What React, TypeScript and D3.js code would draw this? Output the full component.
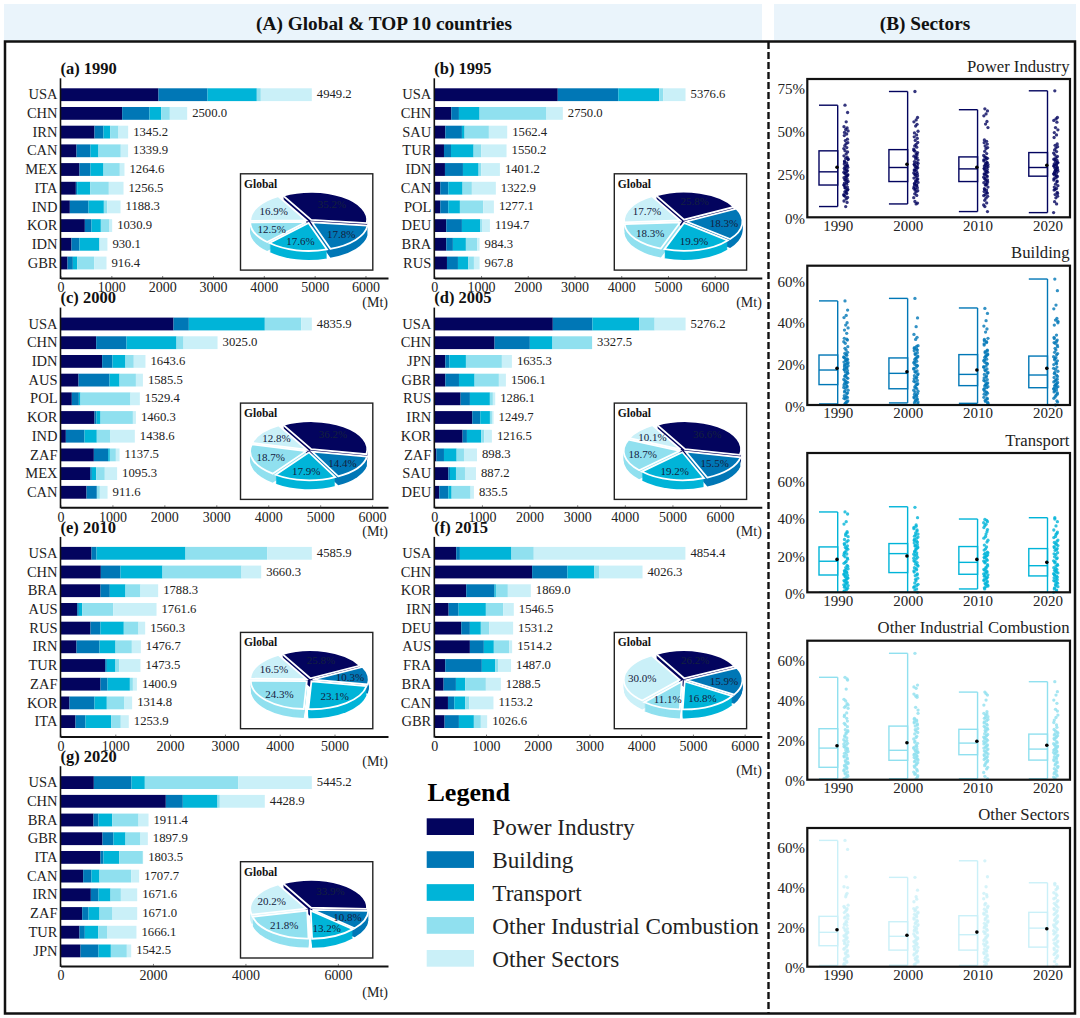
import { useEffect, useRef } from 'react';
import * as d3 from 'd3';

const SERIF = '"Liberation Serif", serif';
const SECTOR_NAMES = ['Power Industry', 'Building', 'Transport', 'Other Industrial Combustion', 'Other Sectors'];
const SECTOR_COLORS = ['#03045e', '#0077b6', '#00b4d8', '#90e0ef', '#caf0f8'];

// (A) top 10 countries per year, Mt by sector
const COUNTRIES_1990 = ['USA', 'CHN', 'IRN', 'CAN', 'MEX', 'ITA', 'IND', 'KOR', 'IDN', 'GBR'];
const TOTALS_1990 = [4949.2, 2500.0, 1345.2, 1339.9, 1264.6, 1256.5, 1188.3, 1030.9, 930.1, 916.4];
const VALUES_1990 = [
  [1928, 964, 970, 79, 1003], [1213, 538, 230, 170, 341], [669, 177, 131, 164, 190], [315, 275, 157, 439, 144],
  [374, 216, 256, 321, 92], [302, 26, 256, 367, 289], [184, 367, 302, 66, 262], [479, 131, 184, 170, 52],
  [216, 157, 393, 0, 157], [138, 105, 85, 334, 243],
];
const GLOBAL_1990 = [35.2, 17.8, 17.6, 12.5, 16.9];

const COUNTRIES_1995 = ['USA', 'CHN', 'SAU', 'TUR', 'IDN', 'CAN', 'POL', 'DEU', 'BRA', 'RUS'];
const TOTALS_1995 = [5376.6, 2750.0, 1562.4, 1550.2, 1401.2, 1322.9, 1277.1, 1194.7, 984.3, 967.8];
const VALUES_1995 = [
  [2642, 1296, 876, 85, 477], [363, 164, 442, 1432, 349], [235, 356, 57, 520, 392], [207, 150, 484, 164, 541],
  [228, 385, 335, 57, 399], [128, 171, 306, 199, 513], [128, 171, 249, 499, 228], [256, 335, 392, 36, 171],
  [256, 142, 278, 242, 50], [271, 235, 221, 121, 121],
];
const GLOBAL_1995 = [25.8, 18.3, 19.9, 18.3, 17.7];

const COUNTRIES_2000 = ['USA', 'CHN', 'IDN', 'AUS', 'POL', 'KOR', 'IND', 'ZAF', 'MEX', 'CAN'];
const TOTALS_2000 = [4835.9, 3025.0, 1643.6, 1585.5, 1529.4, 1460.3, 1438.6, 1137.5, 1095.3, 911.6];
const VALUES_2000 = [
  [2176, 295, 1463, 700, 205], [687, 584, 963, 135, 655], [802, 199, 250, 160, 225], [347, 597, 193, 315, 135],
  [218, 135, 32, 963, 180], [655, 39, 77, 623, 58], [103, 359, 237, 263, 469], [642, 276, 32, 116, 71],
  [571, 32, 83, 167, 237], [501, 199, 0, 58, 148],
];
const GLOBAL_2000 = [36.2, 14.4, 17.9, 18.7, 12.8];

const COUNTRIES_2005 = ['USA', 'CHN', 'JPN', 'GBR', 'RUS', 'IRN', 'KOR', 'ZAF', 'SAU', 'DEU'];
const TOTALS_2005 = [5276.2, 3327.5, 1635.3, 1506.1, 1286.1, 1249.7, 1216.5, 898.3, 887.2, 835.5];
const VALUES_2005 = [
  [2488, 832, 985, 321, 650], [1265, 741, 475, 832, 0], [231, 84, 349, 755, 210], [231, 287, 328, 510, 147],
  [552, 196, 419, 63, 49], [797, 168, 203, 42, 35], [594, 91, 300, 63, 161], [42, 161, 266, 154, 273],
  [294, 35, 126, 189, 231], [105, 189, 70, 398, 70],
];
const GLOBAL_2005 = [36.6, 15.5, 19.2, 18.7, 10.1];

const COUNTRIES_2010 = ['USA', 'CHN', 'BRA', 'AUS', 'RUS', 'IRN', 'TUR', 'ZAF', 'KOR', 'ITA'];
const TOTALS_2010 = [4585.9, 3660.3, 1788.3, 1761.6, 1560.3, 1476.7, 1473.5, 1400.9, 1314.8, 1253.9];
const VALUES_2010 = [
  [566, 91, 1624, 1490, 815], [736, 359, 766, 1442, 359], [730, 170, 286, 274, 322], [304, 30, 61, 566, 791],
  [547, 182, 426, 268, 122], [292, 420, 292, 298, 164], [815, 30, 158, 67, 389], [730, 128, 408, 55, 73],
  [164, 456, 225, 322, 140], [274, 182, 468, 176, 146],
];
const GLOBAL_2010 = [25.8, 10.3, 23.1, 24.3, 16.5];

const COUNTRIES_2015 = ['USA', 'CHN', 'KOR', 'IRN', 'DEU', 'AUS', 'FRA', 'BRA', 'CAN', 'GBR'];
const TOTALS_2015 = [4854.4, 4026.3, 1869.0, 1546.5, 1531.2, 1514.2, 1487.0, 1288.5, 1153.2, 1026.6];
const VALUES_2015 = [
  [424, 71, 997, 431, 2932], [1891, 682, 521, 90, 842], [617, 547, 26, 232, 444], [277, 193, 527, 334, 206],
  [521, 167, 212, 161, 463], [688, 270, 193, 296, 58], [212, 707, 257, 64, 244], [180, 238, 180, 399, 289],
  [264, 122, 212, 77, 469], [199, 277, 289, 135, 122],
];
const GLOBAL_2015 = [26.2, 15.9, 16.8, 11.1, 30.0];

const COUNTRIES_2020 = ['USA', 'CHN', 'BRA', 'GBR', 'ITA', 'CAN', 'IRN', 'ZAF', 'TUR', 'JPN'];
const TOTALS_2020 = [5445.2, 4428.9, 1911.4, 1897.9, 1803.5, 1707.7, 1671.6, 1671.0, 1666.1, 1542.5];
const VALUES_2020 = [
  [721, 815, 288, 2019, 1593], [2278, 368, 750, 50, 973], [714, 108, 296, 570, 216], [908, 238, 260, 324, 159],
  [865, 65, 339, 512, 7], [490, 180, 173, 685, 173], [656, 166, 260, 224, 353], [469, 137, 238, 281, 534],
  [411, 115, 288, 202, 627], [433, 389, 267, 346, 94],
];
const GLOBAL_2020 = [33.9, 10.8, 13.2, 21.8, 20.2];

// (B) box stats per decade: min, q1, median, q3, max, mean (%)
const YEARS = [1990, 2000, 2010, 2020];
const POWER_STATS = [[6.2, 18.6, 26.2, 38.3, 64.6, 28.8], [7.7, 20.6, 28.7, 39, 72.5, 30.6], [3.3, 20.6, 27.9, 34.8, 62, 28.8], [2.7, 23.7, 28.7, 37.3, 72.9, 30]];
const BUILDING_STATS = [[0.5, 9.8, 16.8, 24, 50, 17.6], [1, 7.8, 15.2, 22.6, 51.2, 16], [0.8, 9.3, 14.7, 24.2, 46.6, 16.8], [0, 8.3, 14.4, 23.5, 60.5, 17.6]];
const TRANSPORT_STATS = [[0, 9.3, 16.7, 24.4, 43.2, 17.7], [0, 10.6, 20.8, 26.2, 46, 19.5], [1.8, 9.7, 16.1, 24.6, 39.4, 17.7], [0, 8.8, 14.3, 23.5, 40.1, 16.1]];
const INDUSTRIAL_STATS = [[0.5, 6.2, 15.8, 25.5, 51.2, 17], [0.5, 9.7, 14.7, 26.8, 63.2, 18.5], [0.5, 12.5, 18.3, 25.2, 43.8, 19.2], [0.5, 9.8, 15.3, 22.8, 49, 17.2]];
const OTHER_STATS = [[0.6, 10.5, 17.2, 25.2, 63.2, 18.5], [0.7, 8.3, 15.2, 22.5, 44.7, 15.7], [0.6, 8.3, 16, 25.5, 53, 17.3], [0, 9.8, 19.3, 27.2, 42, 19]];

// (B) country shares (%)
const POWER_POINTS = [
  [64.6, 60.4, 55, 52.2, 51.5, 50.6, 49.8, 48.9, 48, 47.1, 45, 44.2, 43, 42.4, 41.3, 40.2, 39.6, 38.4, 37.7, 36.6, 35.4, 34.7, 33.9, 33.3, 32.4, 31.3, 30.7, 29.9, 29.3, 28.8, 27.9, 27.3, 26.4, 25.9, 25.1, 24.1, 23.7, 22.8, 22.1, 21.3, 20.7, 19.7, 19.1, 18.3, 17.4, 16.9, 16.1, 15.3, 14.7, 13.7, 13.1, 12.1, 11.4, 10.6, 9.4, 8.6, 6.2,
    33.6, 31.8, 29.6, 28.3, 26.9, 25.5, 24.6, 23.2, 21.7, 20.2, 18.7, 17.1, 15.7, 14.2, 12.6],
  [72.5, 57.5, 56.1, 55, 53.6, 52.6, 49.6, 48.6, 47.5, 46.4, 45.5, 44.3, 43.1, 42, 41.2, 40.4, 39.3, 38.1, 37.3, 36.6, 35.2, 34.4, 33.7, 33, 32.1, 31.5, 30.6, 29.8, 29.2, 28.5, 27.7, 27, 26.3, 25.6, 24.8, 24, 23.2, 22.6, 21.7, 21, 20.1, 19.5, 18.7, 17.8, 17.1, 16.4, 15.3, 14.6, 13.5, 12.6, 11.3, 9.1, 8.2, 7.7,
    38.6, 36.1, 34.8, 31.1, 30.2, 28.8, 27.3, 25.2, 24.4, 22.1, 20.6, 19.1, 18.2, 16.8, 15.8],
  [62.5, 61.3, 59.6, 58.5, 55.2, 53.7, 51.7, 44.6, 43.8, 43, 42.2, 41.1, 40.2, 39.5, 38, 36.7, 35.6, 34.8, 34, 33.4, 32.5, 31.7, 31, 30.4, 29.6, 28.9, 28.2, 27.6, 26.8, 26, 25.3, 24.7, 23.9, 23.1, 22.4, 21.5, 20.8, 19.9, 19.2, 18.5, 17.4, 16.5, 15.7, 14.8, 13.9, 13, 12.1, 11, 9.8, 8.3, 7.1, 6.2, 3.3,
    34.4, 33.1, 31.3, 30, 29.2, 27.9, 26.4, 25, 23.5, 21.9, 20.4, 18.9, 16, 14.3, 12.5],
  [72.9, 57.5, 56.7, 55.8, 54.8, 51.7, 50.4, 48.8, 47.5, 46, 42.3, 41.5, 40.7, 39.9, 38.8, 37.9, 37, 36, 35.1, 34.4, 33.5, 32.9, 32.1, 31.4, 30.8, 30.1, 29.4, 28.9, 28.2, 27.6, 26.9, 26.3, 25.6, 25, 24.3, 23.5, 22.8, 21.5, 20.4, 19.1, 18.2, 17.4, 16.6, 15.7, 14.4, 13.1, 12.2, 11.2, 9, 7.7, 2.7,
    33.2, 31.7, 30.5, 29.7, 28.5, 27.3, 26.6, 25.3, 24, 22.3, 20.9, 16.1, 13.7],
];
const BUILDING_POINTS = [
  [50, 45.6, 43, 42, 39.5, 38.4, 37, 36, 34.4, 32, 31.2, 29.6, 28, 26.4, 24.8, 23.9, 23.1, 22.5, 21.8, 21.2, 20.6, 20, 19.5, 18.9, 18.4, 17.7, 17.2, 16.6, 15.9, 15.2, 14.5, 13.8, 13.1, 12.3, 11.7, 10.9, 10.2, 9.6, 8.8, 8, 7.1, 6.3, 5.4, 4.5, 3.6, 2.9, 2, 1.2, 0.5,
    31.6, 30.4, 27.2, 25.3, 24.2, 22.9, 22.1, 21.5, 20.3, 19.2, 18.1, 16.9, 15.5, 14.1, 12.8, 11.2, 10.5, 9.1, 8.4, 6.8, 5.8, 4, 3.2, 1.6, 0.9],
  [51.2, 41.8, 37.6, 33.9, 32.5, 31.5, 28.5, 27.6, 26.8, 26, 25.1, 24.2, 23.5, 22.6, 21.9, 21, 20.3, 19.5, 18.8, 18.1, 17.2, 16.4, 15.7, 14.9, 14.1, 13.3, 12.6, 11.8, 11, 10.2, 9.5, 8.7, 7.8, 7.1, 6.2, 5.5, 4.7, 3.8, 3, 2.2, 1.4, 1,
    28.1, 27.1, 26.4, 24.7, 23.1, 22.2, 20.7, 19.1, 17.6, 16, 14.5, 13, 11.4, 9.9, 8.3, 6.6, 5.1, 4.2, 3.4, 2.6, 1.8, 0.6],
  [46.4, 44, 40.5, 37.9, 36.5, 35, 32, 30.9, 30, 28.8, 26.4, 25.6, 24.5, 23.7, 22.9, 22, 21.3, 20.5, 19.7, 18.8, 18.1, 17.3, 16.4, 15.6, 14.7, 13.9, 13, 12.2, 11.4, 10.6, 9.9, 9.2, 8.3, 7.4, 6.6, 5.7, 4.8, 3.7, 2.8, 1.7, 0.8,
    31.5, 30.4, 29.4, 26, 25.1, 24.1, 23.3, 21.7, 20.1, 18.4, 16.8, 15.2, 13.4, 11.8, 10.2, 9.6, 8.8, 7.9, 6.2, 5.2, 3.2, 2.2, 1.2],
  [60.5, 54.9, 48, 46.2, 41.6, 40.8, 39.5, 38.4, 33.6, 32.5, 31.2, 29.6, 28, 26.4, 25.3, 24.1, 23.2, 22.3, 21.2, 20.3, 19.4, 18.2, 17.1, 16.2, 15.1, 14.3, 13.2, 12.4, 11.6, 10.8, 9.9, 9.2, 8.4, 7.7, 6.8, 5.8, 4.6, 3.2, 2, 0,
    40.2, 31.9, 30.5, 30, 28.8, 27.2, 24.7, 22.7, 21.7, 19.8, 17.6, 15.6, 13.7, 12, 11.1, 10.3, 9.5, 8.8, 8, 7.2, 6.3, 5.2, 3.9, 1.4],
];
const TRANSPORT_POINTS = [
  [43.2, 42.1, 38, 36.7, 32.6, 31.4, 29.9, 28.4, 27.1, 26.2, 25, 24.1, 23.2, 22.4, 21.5, 20.6, 19.9, 19.1, 17.8, 16.6, 15.6, 14.5, 13.3, 12.6, 11.7, 10.9, 10, 9.2, 8.4, 7.5, 6.7, 5.8, 4.9, 4, 3.2, 2.2, 1.3, 0.4,
    32, 30.6, 27.8, 25.6, 23.7, 21, 18.4, 16.1, 13.9, 12.2, 11.3, 10.4, 9.6, 8.8, 7.9, 7.1, 6.3, 5.4, 4.4, 3.6, 2.7, 1.8, 0.8],
  [45.7, 40.1, 36.2, 34.9, 33.5, 30.8, 29.7, 28.4, 27.4, 26.5, 25.6, 24.8, 23.9, 23, 22.1, 21.2, 20.5, 19.7, 18.8, 17.9, 16.9, 16, 15.1, 14.1, 13.2, 12.1, 10.9, 9.9, 8.9, 7.6, 6.2, 5, 3.7, 2.6, 1.2, 0,
    35.5, 34.2, 32.9, 32, 31.3, 30.2, 29, 27.9, 26.9, 25.2, 24.3, 23.4, 21.7, 20.1, 18.3, 16.5, 14.6, 12.7, 11.5, 9.4, 7, 4.3, 3.1, 1.8],
  [39.2, 38, 36.6, 34.8, 32.6, 30, 28, 25.4, 24.4, 22.7, 21.6, 20.9, 20, 19.2, 18.5, 17.7, 16.8, 15.9, 14.9, 13.5, 12.3, 11.2, 10.3, 9.4, 8.6, 7.7, 6.8, 5.9, 4.8, 3.9, 3, 1.8,
    38.7, 37.4, 35.8, 33.7, 31.3, 29.1, 27, 23.4, 21.2, 20.4, 19.6, 18.8, 17.2, 16.3, 14.2, 12.8, 11.8, 10.8, 9.9, 9, 8.1, 7.2, 6.3, 5.3, 4.3, 3.4, 2.4],
  [40.1, 38, 35.7, 33.5, 31.7, 30, 28.1, 26.8, 25.7, 24.6, 23.5, 22.5, 21.3, 20.2, 19.1, 18, 16.9, 15.9, 15, 14.1, 13.2, 12.2, 11.3, 10.4, 9.6, 8.7, 7.8, 6.8, 5.9, 4.8, 3.6, 2.4, 1.2, 0,
    39.4, 32.4, 31.1, 29.4, 27.4, 26.2, 25.1, 24, 22.9, 20.7, 18.5, 16.4, 14.5, 12.7, 11.8, 10.8, 10, 9.1, 8.2, 7.3, 6.3, 5.3, 4.2, 3, 1.8, 0.6],
];
const INDUSTRIAL_POINTS = [
  [51.2, 49.8, 45.3, 40.2, 38, 36.8, 35.7, 32.3, 30.7, 28.2, 26.5, 25, 24, 23, 22, 20.9, 20, 19, 18.2, 17.4, 16.6, 15.8, 14.9, 14.1, 13.2, 12.3, 11.4, 10.4, 9.5, 8.6, 7.6, 6.7, 5.6, 4.5, 3.4, 2.3, 1.2, 0.5,
    50.4, 39.4, 37.4, 36.2, 33.4, 31.6, 29.3, 27.5, 24.5, 23.5, 21.5, 19.5, 17.8, 16.2, 15.3, 13.6, 11.8, 10.9, 9, 8.1, 7.1, 6.1, 5, 3.9, 2.8, 1.7],
  [63.2, 47.3, 45.7, 42.8, 41.2, 36.2, 34.8, 30.7, 29.8, 28.9, 27.9, 26.8, 25.6, 24.3, 22.9, 21.7, 20.4, 19.3, 18.2, 17.1, 16.2, 15.3, 14.4, 13.6, 12.8, 12, 11.1, 10.3, 9.4, 8.5, 7.4, 6.2, 5.1, 3.8, 2.7, 1.4, 0.5,
    46.4, 42, 41.8, 33.2, 30.2, 29.3, 28.4, 27.3, 25, 23.6, 21.1, 18.7, 16.6, 15.7, 14.8, 14, 13.2, 12.4, 11.6, 10.7, 9.9, 9, 7.9, 6.8, 4.4, 3.2, 2],
  [43.8, 42.3, 39.8, 37.3, 34, 32.3, 31.5, 30.7, 29.5, 28.4, 27.3, 26.1, 25.2, 24.1, 23, 22.2, 21.3, 20.5, 19.7, 18.8, 17.9, 17, 16.2, 15.3, 14.4, 13.4, 12.5, 11.5, 10.6, 9.6, 8.5, 7, 5.4, 3.6, 1.7, 0.5,
    43, 33.2, 32.8, 31.1, 30.1, 28.9, 27.8, 26.7, 25.6, 24.6, 22.6, 21.7, 20.9, 20.1, 19.2, 18.3, 17.4, 16.6, 15.8, 14.9, 13.9, 12.9, 12, 11, 10.1, 9, 7.7, 6.2],
  [49, 44, 42.3, 39.8, 38.2, 35.2, 32.3, 29.8, 27.4, 25.1, 23.8, 22.9, 22, 21, 20.1, 19, 18, 17.2, 16.4, 15.6, 14.8, 14, 13.2, 12.3, 11.4, 10.5, 9.5, 8.5, 7.3, 6.1, 4.9, 3.6, 2.5, 1.3, 0.5,
    34.3, 31.1, 28.6, 26.2, 24.4, 23.3, 22.4, 21.5, 20.6, 18.5, 17.6, 16.8, 16, 15.2, 14.4, 13.6, 12.8, 11.9, 11, 10, 9, 7.9, 6.7, 5.5, 4.2, 3, 1.9, 0.9],
];
const OTHER_POINTS = [
  [63.2, 58.7, 45, 40, 36.7, 35, 30.8, 29.6, 28.4, 27.1, 26, 24.9, 23.9, 22.8, 21.6, 20.7, 19.6, 18.5, 17.5, 16.5, 15.5, 14.6, 13.6, 12.5, 11.5, 10.4, 9.2, 8.1, 6.9, 5.8, 4.7, 3.4, 2.2, 1, 0.6,
    39.6, 35.9, 30.2, 29, 27.8, 25.4, 24.4, 22.2, 21.1, 19.1, 18, 17, 16, 15, 14.1, 13, 12, 11, 9.8, 8.7, 7.5, 6.3, 5.2, 4, 2.8, 1.6],
  [44.7, 38.3, 35, 32.5, 29.7, 28.5, 27.3, 26.2, 25, 23.8, 22.7, 21.6, 20.6, 19.5, 18.5, 17.5, 16.4, 15.5, 14.5, 13.6, 12.6, 11.6, 10.7, 9.7, 8.6, 7.5, 6.4, 5.2, 4.1, 3, 1.8, 0.7,
    33.8, 29.1, 27.9, 26.7, 25.6, 24.4, 23.2, 22.1, 21.1, 20, 19, 18, 16.9, 15, 14, 13.1, 12.1, 11.1, 10.2, 9.1, 8, 6.9, 5.8, 4.6, 3.5, 2.4, 1.2],
  [53, 45, 40, 36.7, 35, 31.7, 30.3, 28.8, 27.4, 26.2, 25, 23.5, 22.3, 21.1, 20, 18.8, 17.6, 16.5, 15.3, 14.3, 13.1, 12, 10.9, 9.9, 8.8, 7.7, 6.5, 5.4, 4.2, 3.1, 2, 0.6,
    36, 34, 31, 29.5, 28.1, 26.8, 25.6, 24.2, 22.9, 21.7, 20.5, 19.4, 18.2, 17.1, 15.9, 14.8, 13.7, 12.5, 11.4, 10.4, 9.3, 8.2, 7.1, 6, 4.8, 3.6, 2.5, 1.3],
  [41.7, 40, 38.5, 37, 35.7, 34.4, 33.1, 31.7, 30.5, 29.2, 28, 26.7, 25.5, 24.3, 23.1, 22, 20.9, 19.8, 18.6, 17.4, 16.3, 15.1, 14, 12.8, 11.7, 10.5, 9.3, 8, 6.8, 5.5, 4.2, 2.6, 1.2, 0,
    41, 39.2, 36.4, 34, 32.4, 31.1, 29.8, 28.6, 27.4, 26.1, 24.9, 23.7, 22.5, 21.4, 20.3, 19.2, 18, 16.8, 15.7, 14.5, 13.4, 12.2, 11.1, 9.9, 8.6, 7.4, 6.1, 4.8],
];

const JITTER = [-1.0, 1.6, 0.2, -2.0, 1.1, -0.3, 2.1, -1.5, 0.7, -1.7, 1.4, -0.7, 1.8, 0.1, -1.2, 0.8, -2.2];

const THOUSANDS = [0, 1000, 2000, 3000, 4000, 5000, 6000];
const BAR_PANELS = [
  { title: '(a) 1990', countries: COUNTRIES_1990, totals: TOTALS_1990, values: VALUES_1990, shares: GLOBAL_1990, xMax: 6443, ticks: THOUSANDS, col: 0, row: 0, mtDy: 29 },
  { title: '(b) 1995', countries: COUNTRIES_1995, totals: TOTALS_1995, values: VALUES_1995, shares: GLOBAL_1995, xMax: 7008, ticks: THOUSANDS, col: 1, row: 0, mtDy: 29 },
  { title: '(c) 2000', countries: COUNTRIES_2000, totals: TOTALS_2000, values: VALUES_2000, shares: GLOBAL_2000, xMax: 6306, ticks: THOUSANDS, col: 0, row: 1, mtDy: 29 },
  { title: '(d) 2005', countries: COUNTRIES_2005, totals: TOTALS_2005, values: VALUES_2005, shares: GLOBAL_2005, xMax: 6876, ticks: THOUSANDS, col: 1, row: 1, mtDy: 29 },
  { title: '(e) 2010', countries: COUNTRIES_2010, totals: TOTALS_2010, values: VALUES_2010, shares: GLOBAL_2010, xMax: 5976, ticks: THOUSANDS.slice(0, 6), col: 0, row: 2, mtDy: 29 },
  { title: '(f) 2015', countries: COUNTRIES_2015, totals: TOTALS_2015, values: VALUES_2015, shares: GLOBAL_2015, xMax: 6332, ticks: THOUSANDS, col: 1, row: 2, mtDy: 38 },
  { title: '(g) 2020', countries: COUNTRIES_2020, totals: TOTALS_2020, values: VALUES_2020, shares: GLOBAL_2020, xMax: 7084, ticks: [0, 2000, 4000, 6000], col: 0, row: 3, mtDy: 31 },
];

const SECTOR_PANELS = [
  { points: POWER_POINTS, stats: POWER_STATS, yMax: 79.7, ticks: [0, 25, 50, 75], top: 79, bottom: 217.3, titleY: 71.5 },
  { points: BUILDING_POINTS, stats: BUILDING_STATS, yMax: 66.9, ticks: [0, 20, 40, 60], top: 265.7, bottom: 405, titleY: 258 },
  { points: TRANSPORT_POINTS, stats: TRANSPORT_STATS, yMax: 74.9, ticks: [0, 20, 40, 60], top: 453, bottom: 592.3, titleY: 446 },
  { points: INDUSTRIAL_POINTS, stats: INDUSTRIAL_STATS, yMax: 69.5, ticks: [0, 20, 40, 60], top: 640.7, bottom: 779.7, titleY: 632.7 },
  { points: OTHER_POINTS, stats: OTHER_STATS, yMax: 69.4, ticks: [0, 20, 40, 60], top: 828, bottom: 966.7, titleY: 820 },
];

const COL_X = [60.5, 434.3];
const AXIS_W = 327.5;
const ROW_STEP = 229.3;
const ROW_Y0 = 88.3;

type Sel = d3.Selection<SVGGElement, unknown, null, undefined>;

function drawPie(root: Sel, shares: number[], bx: number, by: number) {
  const box = root.append('g');
  box.append('rect').attr('x', bx).attr('y', by).attr('width', 132.3).attr('height', 96.3)
    .attr('fill', '#fff').attr('stroke', '#222').attr('stroke-width', 1.4);
  box.append('text').attr('x', bx + 3.5).attr('y', by + 14).attr('font-weight', 'bold').attr('font-size', 11.5)
    .attr('fill', '#111').text('Global');

  const cx = bx + 68.8;
  const cy = by + 47.5;
  const rx = 56;
  const squash = 0.5;
  const depth = 9;
  const explode = 3.4;

  const start = (-30 * Math.PI) / 180;
  const arcs = d3.pie<number>().sort(null).startAngle(start).endAngle(start + Math.PI * 2)(shares);
  const arcGen = d3.arc<d3.PieArcDatum<number>>().innerRadius(0).outerRadius(rx);

  const order = arcs
    .map((a, i) => ({ a, i, mid: (a.startAngle + a.endAngle) / 2 }))
    .sort((p, q) => -Math.cos(p.mid) - -Math.cos(q.mid));

  for (const { a, i, mid } of order) {
    const dx = Math.sin(mid) * explode;
    const dy = -Math.cos(mid) * explode * squash;
    const path = arcGen(a)!;
    // stacked copies make the side wall of the slice
    for (let d = depth; d >= 1; d--) {
      box.append('path').attr('d', path).attr('fill', SECTOR_COLORS[i])
        .attr('transform', `translate(${cx + dx},${cy + dy + d}) scale(1,${squash})`);
    }
    box.append('path').attr('d', path).attr('fill', SECTOR_COLORS[i])
      .attr('stroke', '#fff').attr('stroke-width', 1.8).attr('vector-effect', 'non-scaling-stroke')
      .attr('transform', `translate(${cx + dx},${cy + dy}) scale(1,${squash})`);
  }

  arcs.forEach((a) => {
    const mid = (a.startAngle + a.endAngle) / 2;
    box.append('text')
      .attr('x', cx + Math.sin(mid) * 41)
      .attr('y', cy - Math.cos(mid) * 41 * squash)
      .attr('dy', '0.35em').attr('text-anchor', 'middle').attr('font-size', 11).attr('fill', '#14213d')
      .text(`${a.data.toFixed(1)}%`);
  });
}

function drawBarPanel(root: Sel, p: (typeof BAR_PANELS)[number]) {
  const x0 = COL_X[p.col];
  const y0 = ROW_Y0 + p.row * ROW_STEP;
  const axisY = y0 + 189.7;
  const g = root.append('g');

  const x = d3.scaleLinear().domain([0, p.xMax]).range([x0, x0 + AXIS_W]);
  const y = d3.scaleBand<string>().domain(p.countries).range([y0 - 2.95, y0 + 184.05]).paddingInner(0.315).paddingOuter(0.1575);

  p.values.forEach((row, r) => {
    let acc = 0;
    row.forEach((v, s) => {
      g.append('rect').attr('x', x(acc)).attr('y', y(p.countries[r])!).attr('width', x(acc + v) - x(acc))
        .attr('height', y.bandwidth()).attr('fill', SECTOR_COLORS[s]);
      acc += v;
    });
    g.append('text').attr('x', x(acc) + 5).attr('y', y(p.countries[r])! + y.bandwidth() / 2 - 0.5)
      .attr('dy', '0.32em').attr('font-size', 12.7).attr('fill', '#222').text(d3.format('.1f')(p.totals[r]));
  });

  const xAxis = g.append('g').attr('transform', `translate(0,${axisY})`)
    .call(d3.axisBottom(x).tickValues(p.ticks).tickSize(-2).tickSizeOuter(0).tickPadding(4.5).tickFormat(d3.format('d') as any));
  xAxis.attr('font-family', SERIF).attr('font-size', 14);
  xAxis.select('.domain').attr('stroke', '#111').attr('stroke-width', 2);
  xAxis.selectAll('.tick line').attr('stroke', '#444').attr('stroke-width', 0.7);
  xAxis.selectAll('.tick text').attr('fill', '#222');

  const yAxis = g.append('g').attr('transform', `translate(${x0},0)`).call(d3.axisLeft(y).tickSize(0).tickPadding(3));
  yAxis.attr('font-family', SERIF).attr('font-size', 14.5);
  yAxis.select('.domain').remove();
  yAxis.selectAll('.tick text').attr('fill', '#222');
  g.append('line').attr('x1', x0).attr('x2', x0).attr('y1', y0 - 10).attr('y2', axisY + 1)
    .attr('stroke', '#111').attr('stroke-width', 1.6);

  g.append('text').attr('x', x0).attr('y', y0 - 14.3).attr('font-weight', 'bold').attr('font-size', 16.5)
    .attr('fill', '#111').text(p.title);
  g.append('text').attr('x', x0 + AXIS_W).attr('y', axisY + p.mtDy).attr('text-anchor', 'end').attr('font-size', 14)
    .attr('fill', '#222').text('(Mt)');

  drawPie(g, p.shares, x0 + 180, y0 + 85.5);
}

function drawSectorPanel(root: Sel, p: (typeof SECTOR_PANELS)[number], idx: number) {
  const color = SECTOR_COLORS[idx];
  const g = root.append('g');
  const x = d3.scaleLinear().domain([1990, 2020]).range([837.7, 1047.5]);
  const y = d3.scaleLinear().domain([0, p.yMax]).range([p.bottom, p.top]);

  YEARS.forEach((yr, i) => {
    const xc = x(yr);
    const [lo, q1, med, q3, hi, mean] = p.stats[i];
    const left = xc - 18.7;
    const seg = g.append('g').attr('stroke', color).attr('stroke-width', 1.4).attr('fill', 'none');
    seg.append('rect').attr('x', left).attr('y', y(q3)).attr('width', 18.7).attr('height', y(q1) - y(q3));
    seg.append('line').attr('x1', left).attr('x2', xc).attr('y1', y(med)).attr('y2', y(med));
    seg.append('line').attr('x1', xc).attr('x2', xc).attr('y1', y(hi)).attr('y2', y(lo));
    seg.append('line').attr('x1', left).attr('x2', xc).attr('y1', y(hi)).attr('y2', y(hi));
    seg.append('line').attr('x1', left).attr('x2', xc).attr('y1', y(lo)).attr('y2', y(lo));
    p.points[i].forEach((v, k) => {
      g.append('circle').attr('cx', xc + 8.3 + JITTER[k % JITTER.length]).attr('cy', y(v)).attr('r', 1.65)
        .attr('fill', color).attr('opacity', 0.8);
    });
    g.append('circle').attr('cx', xc - 0.7).attr('cy', y(mean)).attr('r', 1.8).attr('fill', '#000');
  });

  g.append('rect').attr('x', 807.3).attr('y', p.top).attr('width', 262.7).attr('height', p.bottom - p.top)
    .attr('fill', 'none').attr('stroke', '#111').attr('stroke-width', 2.2);

  const xAxis = g.append('g').attr('transform', `translate(0,${p.bottom})`)
    .call(d3.axisBottom(x).tickValues(YEARS).tickSize(0).tickPadding(2.6).tickFormat(d3.format('d') as any));
  xAxis.attr('font-family', SERIF).attr('font-size', 15);
  xAxis.select('.domain').remove();
  xAxis.selectAll('.tick text').attr('fill', '#222');

  const yAxis = g.append('g').attr('transform', 'translate(807.3,0)')
    .call(d3.axisLeft(y).tickValues(p.ticks).tickSize(0).tickPadding(2.3).tickFormat((d) => `${d}%`));
  yAxis.attr('font-family', SERIF).attr('font-size', 15);
  yAxis.select('.domain').remove();
  yAxis.selectAll('.tick text').attr('fill', '#222').attr('dy', '0.4em');

  g.append('text').attr('x', 1069.5).attr('y', p.titleY).attr('text-anchor', 'end').attr('font-size', 16.7)
    .attr('fill', '#222').text(SECTOR_NAMES[idx]);
}

function drawLegend(root: Sel) {
  const g = root.append('g');
  g.append('text').attr('x', 427.5).attr('y', 800.7).attr('font-weight', 'bold').attr('font-size', 26).attr('fill', '#000').text('Legend');
  const y = d3.scalePoint<string>().domain(SECTOR_NAMES).range([818.3, 950]);
  SECTOR_NAMES.forEach((name, i) => {
    g.append('rect').attr('x', 426.7).attr('y', y(name)!).attr('width', 47.3).attr('height', 16.7).attr('fill', SECTOR_COLORS[i]);
    g.append('text').attr('x', 492.3).attr('y', y(name)! + 16.7).attr('font-size', 23.2).attr('fill', '#222').text(name);
  });
}

export default function App() {
  const svgRef = useRef<SVGSVGElement>(null);

  useEffect(() => {
    const svg = d3.select(svgRef.current!);
    svg.selectAll('*').remove();
    const root = svg.append('g').attr('font-family', SERIF) as unknown as Sel;

    root.append('rect').attr('x', 4).attr('y', 4).attr('width', 758).attr('height', 37).attr('fill', '#eaf4fb');
    root.append('rect').attr('x', 774).attr('y', 4).attr('width', 302).attr('height', 37).attr('fill', '#eaf4fb');
    root.append('text').attr('x', 384).attr('y', 30).attr('text-anchor', 'middle').attr('font-weight', 'bold')
      .attr('font-size', 19.3).attr('fill', '#111').text('(A) Global & TOP 10 countries');
    root.append('text').attr('x', 925).attr('y', 30).attr('text-anchor', 'middle').attr('font-weight', 'bold')
      .attr('font-size', 19.3).attr('fill', '#111').text('(B) Sectors');

    BAR_PANELS.forEach((p) => drawBarPanel(root, p));
    SECTOR_PANELS.forEach((p, i) => drawSectorPanel(root, p, i));
    drawLegend(root);

    root.append('rect').attr('x', 5).attr('y', 41.5).attr('width', 1070).attr('height', 972)
      .attr('fill', 'none').attr('stroke', '#111').attr('stroke-width', 2.5);
    root.append('line').attr('x1', 768.5).attr('x2', 768.5).attr('y1', 42).attr('y2', 1013)
      .attr('stroke', '#111').attr('stroke-width', 2.4).attr('stroke-dasharray', '7,3');
  }, []);

  return (
    <svg
      ref={svgRef}
      width={1080}
      height={1018}
      viewBox="0 0 1080 1018"
      style={{ position: 'absolute', left: 0, top: 0, background: '#fff' }}
    />
  );
}
